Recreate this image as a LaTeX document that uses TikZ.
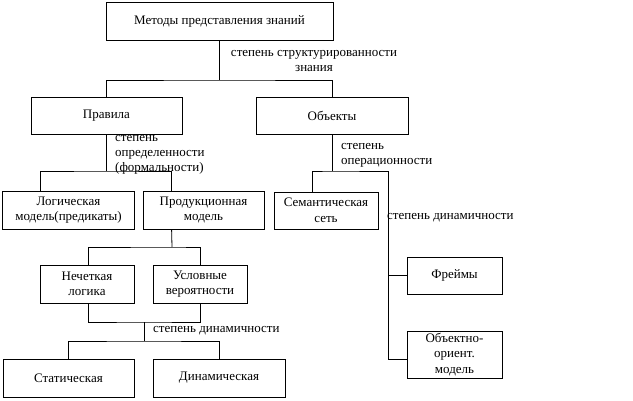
\documentclass[tikz,border=0pt]{standalone}
\usepackage{fontspec}
\setmainfont{Liberation Serif}
\begin{document}
\begin{tikzpicture}[x=1pt,y=-1pt,
        box/.style={draw,thick,minimum width=#1,inner sep=1pt,align=center,font=\fontsize{13}{15.5}\selectfont},
        lbl/.style={inner sep=0pt,font=\fontsize{13}{15}\selectfont}]
        \useasboundingbox (0,0) rectangle (633,400);
        % boxes
        \node[box=227pt,minimum height=38pt] (methods) at (219.5,21) {Методы представления знаний};
        \node[box=151pt,minimum height=37pt] (rules) at (106.5,115.5) {Правила};
        \node[box=152pt,minimum height=37pt] (objects) at (332,115.5) {Объекты};
        \node[box=132pt,minimum height=38pt] (logic) at (68.5,210) {Логическая\\модель(предикаты)};
        \node[box=121pt,minimum height=38pt] (prod) at (203.5,210) {Продукционная\\модель};
        \node[box=94pt,minimum height=38pt] (fuzzy) at (87,284) {Нечеткая\\логика};
        \node[box=94pt,minimum height=38pt] (cond) at (200,284) {Условные\\вероятности};
        \node[box=131pt,minimum height=38pt] (static) at (68.5,378) {Статическая};
        \node[box=132pt,minimum height=38pt] (dynamic) at (219,378) {Динамическая};
        \node[box=104pt,minimum height=37pt] (semnet) at (326,210.5) {Семантическая\\сеть};
        \node[box=95pt,minimum height=37pt] (frames) at (454.5,275.5) {Фреймы};
        \node[box=95pt,minimum height=47pt] (oop) at (454.5,354.5) {Объектно-\\ориент.\\модель};
        % labels
        \node[lbl,align=center] (lstruct) at (314,61) {степень структурированности\\знания};
        \node[lbl,align=left,anchor=west] (lformal) at (115,155) {степень\\определенности\\(формальности)};
        \node[lbl,align=left,anchor=west] (loper) at (341,155) {степень\\операционности};
        \node[lbl,anchor=west] (ldyn1) at (387,218) {степень динамичности};
        \node[lbl,anchor=west] (ldyn2) at (153,331) {степень динамичности};
        % connectors
        \coordinate (j1) at (219.5,80);
        \draw[thick] (methods) -- (j1);
        \draw[thick] (rules.north) |- (j1) -| (objects.north);
        \coordinate (j2) at (106.5,171);
        \draw[thick] (rules) -- (j2);
        \draw[thick] ([xshift=38pt]logic.north west) |- (j2) -| ([xshift=29pt]prod.north west);
        \coordinate (j3) at (172,247);
        \draw[thick] ([xshift=29pt]prod.south west) -- (j3);
        \draw[thick] ([xshift=1pt]fuzzy.north) |- (j3) -| (cond.north);
        \coordinate (j4) at (144,322);
        \draw[thick] ([xshift=1pt]fuzzy.south) |- (j4) -| (cond.south);
        \coordinate (j5) at (144,341);
        \draw[thick] (j4) -- (j5);
        \draw[thick] (static.north) |- (j5) -| (dynamic.north);
        \coordinate (j6) at (332,171);
        \draw[thick] (objects) -- (j6);
        \coordinate (j7) at (388,171);
        \draw[thick] ([xshift=39pt]semnet.north west) |- (j6) -- (j7);
        \draw[thick] (j7) |- (frames.west);
        \draw[thick] (j7) |- ([yshift=-4.5pt]oop.west);
\end{tikzpicture}
\end{document}
